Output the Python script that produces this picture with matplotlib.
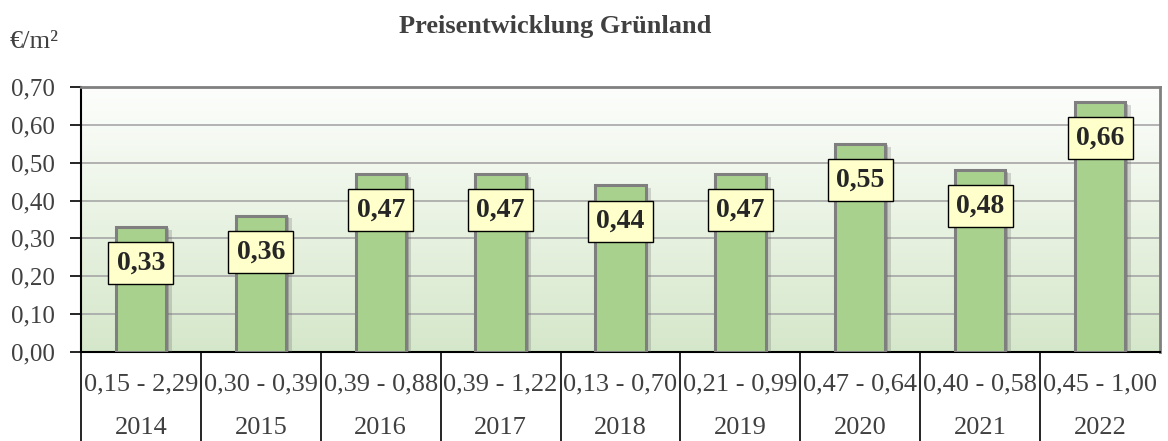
import numpy as np
import matplotlib
matplotlib.use("Agg")
import matplotlib.pyplot as plt
import matplotlib.patheffects as pe
from matplotlib.colors import LinearSegmentedColormap

years = ["2014", "2015", "2016", "2017", "2018", "2019", "2020", "2021", "2022"]
ranges = ["0,15 - 2,29", "0,30 - 0,39", "0,39 - 0,88", "0,39 - 1,22", "0,13 - 0,70",
          "0,21 - 0,99", "0,47 - 0,64", "0,40 - 0,58", "0,45 - 1,00"]
prices = [0.33, 0.36, 0.47, 0.47, 0.44, 0.47, 0.55, 0.48, 0.66]
yticks = [0.0, 0.1, 0.2, 0.3, 0.4, 0.5, 0.6, 0.7]

plt.rcParams['font.family'] = ['Liberation Serif', 'DejaVu Serif']

fig = plt.figure(figsize=(11.68, 4.41), dpi=100)
ax = fig.add_axes([81/1168, 1-352/441, (1160-81)/1168, (352-87)/441])

n = len(years)
x = np.arange(n)
ax.set_xlim(-0.5, n-0.5)
ax.set_ylim(0, 0.70)

# gradient background
cmap = LinearSegmentedColormap.from_list("bg", ["#d5e7ca", "#fdfefc"])
grad = np.linspace(0, 1, 256).reshape(-1, 1)
ax.imshow(grad, cmap=cmap, origin="lower", aspect="auto",
          extent=(-0.5, n-0.5, 0, 0.70), zorder=0)

for t in yticks[1:-1]:
    ax.axhline(t, color="#a6a6a6", lw=1.2, zorder=1)

bars = ax.bar(x, prices, width=0.42, color="#a9d18e", edgecolor="#7f7f7f",
              linewidth=2.2, zorder=3)
for b in bars:
    b.set_path_effects([pe.SimplePatchShadow(offset=(4, -2), shadow_rgbFace="#666666", alpha=0.25),
                        pe.SimplePatchShadow(offset=(2, -1), shadow_rgbFace="#555555", alpha=0.3),
                        pe.Normal()])

for xi, v in zip(x, prices):
    ax.text(xi, v - 0.095, f"{v:.2f}".replace(".", ","), ha="center", va="center",
            fontsize=20, fontweight="bold", color="#262626", zorder=5,
            bbox=dict(boxstyle="square,pad=0.3", facecolor="#ffffcc",
                      edgecolor="black", linewidth=1.0))

ax.set_yticks(yticks)
ax.set_yticklabels([f"{t:.2f}".replace(".", ",") for t in yticks], fontsize=18, color="#404040")
ax.set_xticks([])
ax.tick_params(axis="y", length=8, width=1.2, color="black", pad=11)

ax.spines["left"].set_color("black")
ax.spines["left"].set_linewidth(1.5)
ax.spines["bottom"].set_color("black")
ax.spines["bottom"].set_linewidth(1.5)
ax.spines["top"].set_color("#808080")
ax.spines["top"].set_linewidth(2)
ax.spines["right"].set_color("#808080")
ax.spines["right"].set_linewidth(2)

# table below
trans = ax.get_xaxis_transform()
for i in range(n):
    ax.plot([i-0.5, i-0.5], [0, -0.34], color="black", lw=1.2, transform=trans, clip_on=False)
    ax.text(i, -0.121, ranges[i], ha="center", va="center", fontsize=19, color="#404040",
            transform=trans)
    ax.text(i, -0.287, years[i], ha="center", va="center", fontsize=19, color="#404040",
            transform=trans)

fig.text(555/1168, 1-26/441, "Preisentwicklung Grünland", ha="center", va="center",
         fontsize=19, fontweight="bold", color="#404040")
fig.text(10/1168, 1-42/441, "€/m²", ha="left", va="center", fontsize=19, color="#404040")

fig.savefig("out.png", dpi=100)
